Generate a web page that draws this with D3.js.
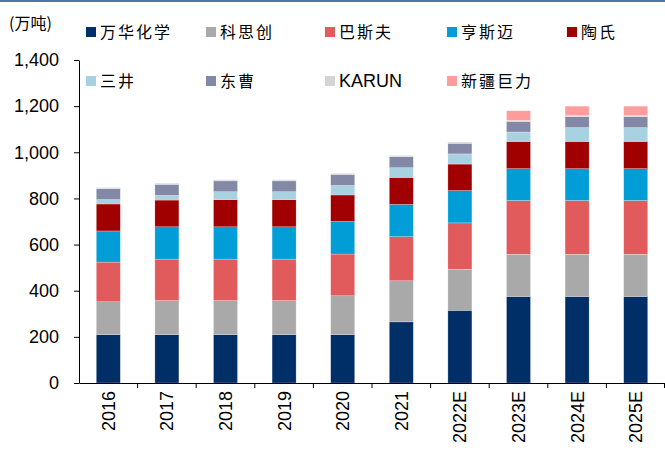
<!DOCTYPE html>
<html>
<head>
<meta charset="utf-8">
<script src="https://cdn.jsdelivr.net/npm/d3@7"></script>
<style>
  body { margin: 0; background: #fff; }
  text { font-family: "Liberation Sans", Arial, "Noto Sans CJK SC", sans-serif; }
  .cn { font-family: "Noto Sans CJK SC", sans-serif; }
</style>
</head>
<body>
<div id="chart"></div>
<script>
// years on the x axis
const years = ["2016", "2017", "2018", "2019", "2020", "2021", "2022E", "2023E", "2024E", "2025E"];

// capacity by company (万吨), bottom to top
const companies = ["万华化学", "科思创", "巴斯夫", "亨斯迈", "陶氏", "三井", "东曹", "KARUN", "新疆巨力"];
const wanhua   = [210, 210, 210, 210, 210, 265, 315, 375, 375, 375];
const covestro = [142, 147, 147, 147, 168, 178, 178, 183, 183, 183];
const basf     = [172, 180, 180, 180, 181, 191, 201, 233, 233, 233];
const huntsman = [135, 140, 140, 140, 141, 140, 140, 138, 138, 138];
const dow      = [117, 116, 118, 118, 115, 117, 115, 118, 118, 118];
const mitsui   = [19, 20, 34, 34, 41, 42, 44, 41, 60, 60];
const tosoh    = [47, 48, 47, 47, 48, 48, 46, 46, 48, 48];
const karun    = [5, 5, 5, 5, 5, 5, 5, 4, 4, 4];
const xinjiang = [0, 0, 0, 0, 0, 0, 0, 42, 41, 41];

const yTicks = [0, 200, 400, 600, 800, 1000, 1200, 1400];
const colors = ["#002f67", "#a9a9a9", "#e15a5c", "#009dd6", "#a00000", "#a8d1e1", "#8288a6", "#d4d4d4", "#ff9d9d"];

const series = [wanhua, covestro, basf, huntsman, dow, mitsui, tosoh, karun, xinjiang];

const width = 665, height = 450;
const margin = {top: 60, right: 0, bottom: 67, left: 79};

const svg = d3.select("#chart")
    .append("svg")
    .attr("width", width)
    .attr("height", height);

// thin rule along the top edge
svg.append("rect")
    .attr("x", 0).attr("y", 0)
    .attr("width", width).attr("height", 2)
    .attr("fill", "#4f74a8");

// build rows for d3.stack
const table = years.map((y, i) => {
    const row = {year: y};
    companies.forEach((c, j) => row[c] = series[j][i]);
    return row;
});
const stacked = d3.stack().keys(companies)(table);

const x = d3.scaleBand()
    .domain(years)
    .range([margin.left, width - margin.right])
    .padding(0);

const y = d3.scaleLinear()
    .domain([0, 1400])
    .range([height - margin.bottom, margin.top]);

const barW = x.bandwidth() * 0.41;

// bars
svg.append("g")
    .selectAll("g")
    .data(stacked)
    .join("g")
    .attr("fill", (d, i) => colors[i])
    .selectAll("rect")
    .data(d => d)
    .join("rect")
    .attr("x", d => x(d.data.year) + (x.bandwidth() - barW) / 2)
    .attr("y", d => y(d[1]))
    .attr("width", barW)
    .attr("height", d => y(d[0]) - y(d[1]))
    .attr("stroke", "#fff")
    .attr("stroke-opacity", 0.5)
    .attr("stroke-width", 0.5);

// y axis
const yAxis = svg.append("g")
    .attr("transform", `translate(${margin.left},0)`)
    .call(d3.axisLeft(y).tickValues(yTicks).tickFormat(d3.format(",")).tickSize(5).tickPadding(15).tickSizeOuter(0));
yAxis.select(".domain").attr("stroke", "#000");
yAxis.selectAll("line").attr("stroke", "#000");
yAxis.selectAll("text")
    .attr("fill", "#000")
    .style("font-size", "18px");

// x axis: ticks sit between categories
const xAxis = svg.append("g")
    .attr("transform", `translate(0,${height - margin.bottom})`)
    .call(d3.axisBottom(x).tickSize(0).tickPadding(0));
xAxis.select(".domain").attr("stroke", "#000");
xAxis.selectAll("text")
    .attr("fill", "#000")
    .style("font-size", "18px")
    .attr("transform", "rotate(-90)")
    .attr("text-anchor", "end")
    .attr("x", -8)
    .attr("y", 0)
    .attr("dy", "0.36em");

xAxis.selectAll(".sep")
    .data(years.slice(1).concat(["end"]))
    .join("line")
    .attr("x1", (d, i) => x(years[0]) + x.step() * (i + 1) - (i === years.length - 1 ? 0.5 : 0))
    .attr("x2", (d, i) => x(years[0]) + x.step() * (i + 1) - (i === years.length - 1 ? 0.5 : 0))
    .attr("y1", 0)
    .attr("y2", 5)
    .attr("stroke", "#000");

// unit label
svg.append("text")
    .attr("class", "cn")
    .attr("x", 9)
    .attr("y", 29)
    .style("font-size", "16px")
    .attr("fill", "#000")
    .text("(万吨)");

// legend, two rows
const legendX = [86, 206, 325, 447, 567];
const legend = svg.append("g")
    .selectAll("g")
    .data(companies)
    .join("g")
    .attr("transform", (d, i) => `translate(${legendX[i % 5]},${i < 5 ? 32 : 81})`);

legend.append("rect")
    .attr("x", 0)
    .attr("y", -5)
    .attr("width", 10)
    .attr("height", 10)
    .attr("fill", (d, i) => colors[i]);

legend.append("text")
    .attr("class", d => d === "KARUN" ? null : "cn")
    .attr("x", 14)
    .attr("y", 0)
    .attr("dy", "0.36em")
    .style("font-size", d => d === "KARUN" ? "18px" : "16px")
    .style("letter-spacing", d => d === "KARUN" ? "0px" : "2px")
    .attr("fill", "#000")
    .text(d => d);
</script>
</body>
</html>
